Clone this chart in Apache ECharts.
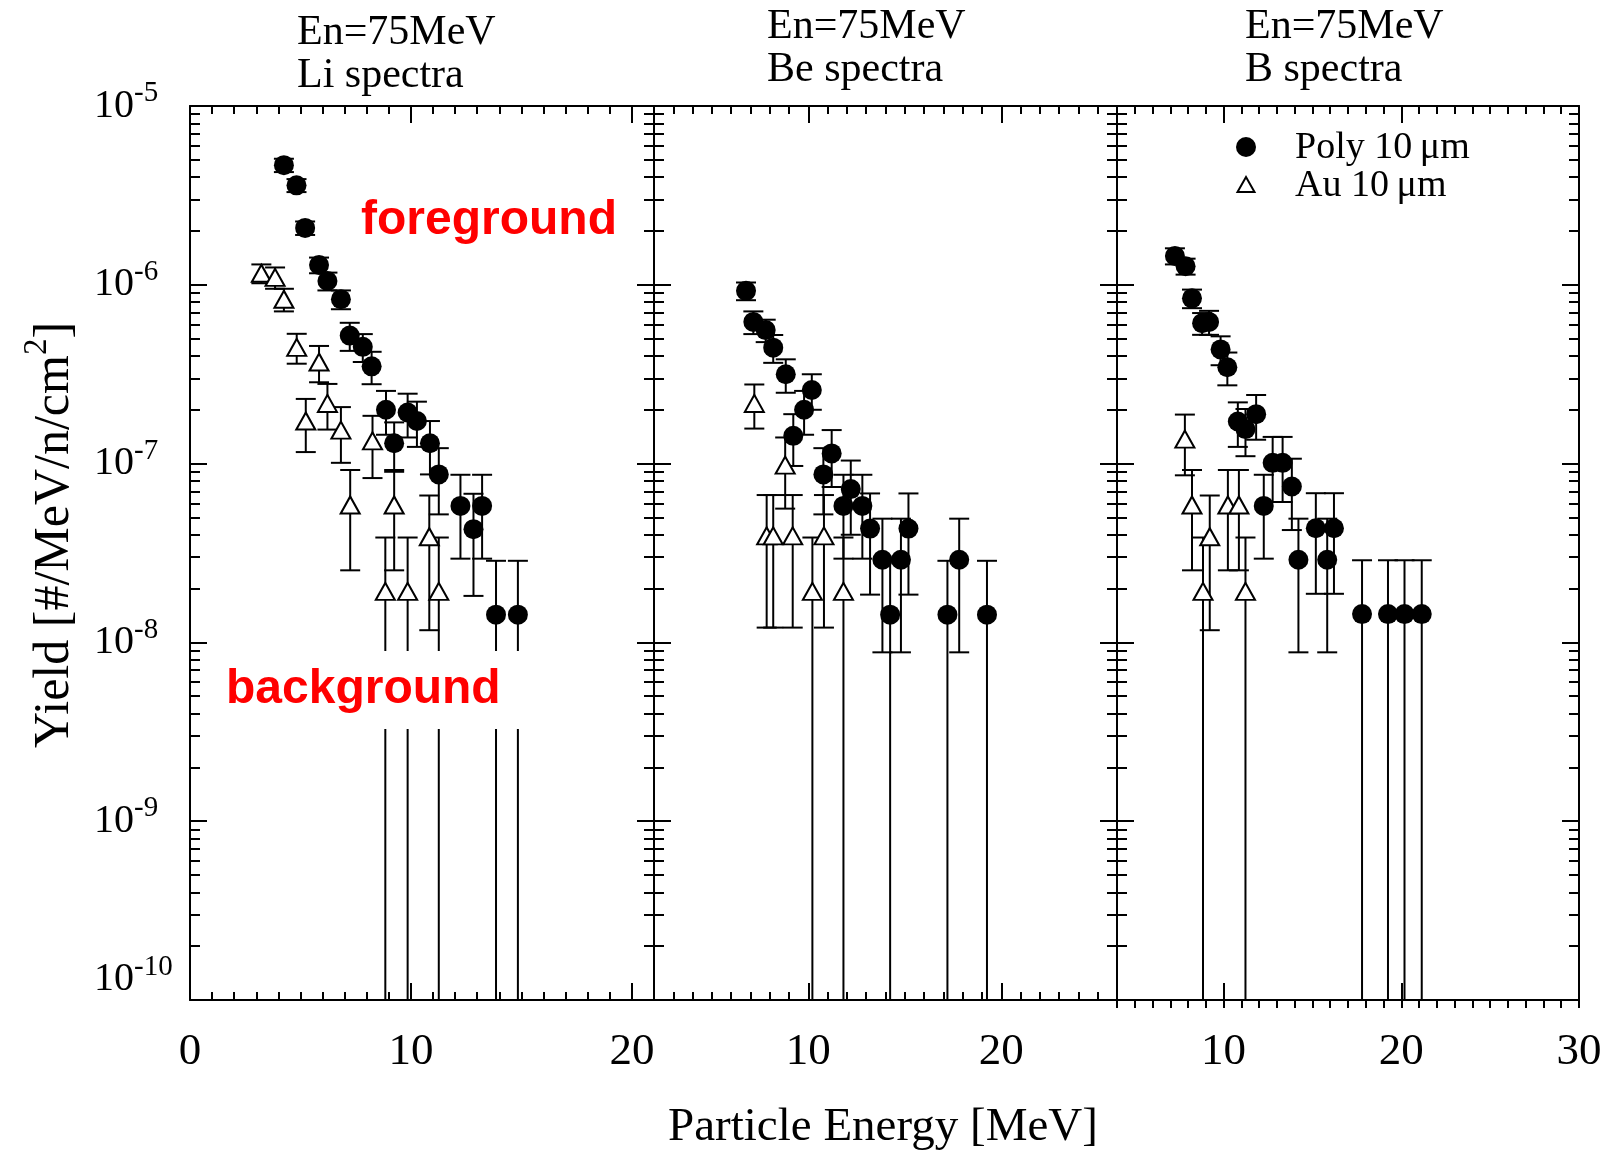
<!DOCTYPE html>
<html>
<head>
<meta charset="utf-8">
<script src="https://cdn.jsdelivr.net/npm/echarts@6/dist/echarts.min.js"></script>
<style>
  html, body { margin: 0; background: #fff; }
  #main { width: 1607px; height: 1154px; }
</style>
</head>
<body>
<div id="main"></div>
<script>
// ---- data (energy in MeV, yield in #/MeV/n/cm2, symmetric errors) ----
const liPolyX = [4.25, 4.82, 5.21, 5.84, 6.22, 6.83, 7.23, 7.82, 8.22, 8.87, 9.24, 9.85, 10.27, 10.86, 11.26, 12.24, 13.22, 12.83, 13.85, 14.84]
const liPolyY = [4.67e-6, 3.6e-6, 2.08e-6, 1.29e-6, 1.05e-6, 8.3e-7, 5.2e-7, 4.5e-7, 3.5e-7, 2.0e-7, 1.3e-7, 1.93e-7, 1.73e-7, 1.3e-7, 8.7e-8, 5.8e-8, 5.8e-8, 4.3e-8, 1.43e-8, 1.43e-8]
const liPolyErr = [4.0e-7, 3.0e-7, 1.8e-7, 1.3e-7, 1.2e-7, 1.0e-7, 9.3e-8, 8.0e-8, 7.2e-8, 5.5e-8, 4.0e-8, 5.3e-8, 4.9e-8, 4.3e-8, 3.5e-8, 2.86e-8, 2.86e-8, 2.48e-8, 1.43e-8, 1.43e-8]
const liAuX = [3.23, 3.85, 4.25, 4.83, 5.84, 6.22, 5.24, 6.83, 8.26, 7.25, 9.24, 10.83, 8.84, 9.85, 11.26]
const liAuY = [1.16e-6, 1.1e-6, 8.3e-7, 4.47e-7, 3.7e-7, 2.17e-7, 1.73e-7, 1.54e-7, 1.34e-7, 5.87e-8, 5.87e-8, 3.9e-8, 1.93e-8, 1.93e-8, 1.93e-8]
const liAuErr = [1.4e-7, 1.5e-7, 1.2e-7, 8.5e-8, 8.5e-8, 6.2e-8, 5.7e-8, 5.3e-8, 5.1e-8, 3.34e-8, 3.34e-8, 2.73e-8, 1.93e-8, 1.93e-8, 1.93e-8]

const bePolyX = [6.77, 7.15, 7.79, 8.18, 8.83, 10.18, 9.78, 9.22, 11.21, 10.78, 12.2, 11.82, 12.8, 13.2, 15.19, 13.84, 14.8, 14.24, 17.82, 17.21, 19.26]
const bePolyY = [9.25e-7, 6.2e-7, 5.58e-7, 4.45e-7, 3.16e-7, 2.58e-7, 2.0e-7, 1.43e-7, 1.14e-7, 8.7e-8, 7.2e-8, 5.8e-8, 5.8e-8, 4.33e-8, 4.33e-8, 2.9e-8, 2.9e-8, 1.43e-8, 2.9e-8, 1.43e-8, 1.43e-8]
const bePolyErr = [1.05e-7, 9.0e-8, 8.0e-8, 7.9e-8, 6.7e-8, 5.8e-8, 5.5e-8, 4.6e-8, 4.0e-8, 3.5e-8, 3.2e-8, 2.86e-8, 2.86e-8, 2.48e-8, 2.48e-8, 2.02e-8, 2.02e-8, 1.43e-8, 2.02e-8, 1.43e-8, 1.43e-8]
const beAuX = [7.2, 8.8, 7.84, 8.18, 9.19, 10.81, 10.21, 11.82]
const beAuY = [2.17e-7, 9.8e-8, 3.94e-8, 3.94e-8, 3.94e-8, 3.94e-8, 1.93e-8, 1.93e-8]
const beAuErr = [6.0e-8, 4.2e-8, 2.73e-8, 2.73e-8, 2.73e-8, 2.73e-8, 1.93e-8, 1.93e-8]

const bPolyX = [7.26, 7.86, 8.22, 8.79, 9.18, 9.83, 10.21, 10.8, 11.23, 11.83, 12.76, 13.32, 13.84, 12.26, 15.19, 16.21, 14.21, 15.83, 17.79, 19.25, 20.18, 21.15]
const bPolyY = [1.45e-6, 1.27e-6, 8.4e-7, 6.1e-7, 6.2e-7, 4.35e-7, 3.46e-7, 1.72e-7, 1.56e-7, 1.89e-7, 1.01e-7, 1.01e-7, 7.45e-8, 5.8e-8, 4.35e-8, 4.35e-8, 2.9e-8, 2.9e-8, 1.44e-8, 1.44e-8, 1.44e-8, 1.44e-8]
const bPolyErr = [1.5e-7, 1.3e-7, 1.0e-7, 8.5e-8, 9.5e-8, 8.0e-8, 7.2e-8, 4.8e-8, 4.6e-8, 5.3e-8, 4.0e-8, 4.0e-8, 3.2e-8, 2.86e-8, 2.48e-8, 2.48e-8, 2.02e-8, 2.02e-8, 1.44e-8, 1.44e-8, 1.44e-8, 1.44e-8]
const bAuX = [7.82, 8.22, 9.22, 10.24, 10.86, 8.84, 11.23]
const bAuY = [1.37e-7, 5.87e-8, 3.9e-8, 5.87e-8, 5.87e-8, 1.93e-8, 1.93e-8]
const bAuErr = [5.1e-8, 3.34e-8, 2.73e-8, 3.34e-8, 3.34e-8, 1.93e-8, 1.93e-8]

// axes
const yDecades = [-10, -9, -8, -7, -6, -5]
const minorMultipliers = [2, 3, 4, 5, 6, 7, 8, 9]
const liTickLabels = [0, 10, 20]
const beTickLabels = [10, 20]
const bTickLabels = [10, 20, 30]
const panelTitles = ["Li spectra", "Be spectra", "B spectra"]
const beamLabel = "En=75MeV"
const legendNames = ["Poly 10\u2009\u03bcm", "Au 10\u2009\u03bcm"]

const SERIF = "'Liberation Serif', 'Times New Roman', serif"
const SANS = "'Liberation Sans', Arial, sans-serif"
const Y_MIN = yDecades[0]
const Y_MAX = yDecades[yDecades.length - 1]
const CAP = 10
const black = { color: "#000", width: 2 }

const minorLog = []
yDecades.slice(0, -1).forEach(d => minorMultipliers.forEach(m => minorLog.push(d + Math.log10(m))))

const panels = [
  { left: 190, width: 464, xMin: 0, xMax: 21, labels: liTickLabels, major: [10, 20], tickOut: false,
    poly: [liPolyX, liPolyY, liPolyErr], au: [liAuX, liAuY, liAuErr] },
  { left: 654, width: 463, xMin: 2, xMax: 26, labels: beTickLabels, major: [10, 20], tickOut: false,
    poly: [bePolyX, bePolyY, bePolyErr], au: [beAuX, beAuY, beAuErr] },
  { left: 1117, width: 462, xMin: 4, xMax: 30, labels: bTickLabels, major: [10, 20], tickOut: true,
    poly: [bPolyX, bPolyY, bPolyErr], au: [bAuX, bAuY, bAuErr] }
]

function errorBars(g, [xs, ys, errs], z) {
  return {
    type: "custom", xAxisIndex: g * 4, yAxisIndex: g * 4, z, silent: true,
    data: xs.map((x, i) => [x, Math.log10(ys[i])]),
    renderItem(params, api) {
      const i = params.dataIndex
      const hi = ys[i] + errs[i]
      const lo = ys[i] - errs[i]
      const hasLow = lo > 0 && Math.log10(lo) > Y_MIN
      const top = api.coord([api.value(0), Math.min(Math.log10(hi), Y_MAX)])
      const bot = api.coord([api.value(0), hasLow ? Math.log10(lo) : Y_MIN])
      const style = { stroke: "#000", lineWidth: 2 }
      const children = [
        { type: "line", shape: { x1: top[0], y1: top[1], x2: bot[0], y2: bot[1] }, style },
        { type: "line", shape: { x1: top[0] - CAP, y1: top[1], x2: top[0] + CAP, y2: top[1] }, style }
      ]
      if (hasLow) children.push({ type: "line", shape: { x1: bot[0] - CAP, y1: bot[1], x2: bot[0] + CAP, y2: bot[1] }, style })
      return { type: "group", children }
    }
  }
}

function points(g, [xs, ys], kind) {
  const base = { type: "scatter", xAxisIndex: g * 4, yAxisIndex: g * 4, silent: true,
    data: xs.map((x, i) => [x, Math.log10(ys[i])]) }
  if (kind === "poly") return { ...base, z: 5, symbol: "circle", symbolSize: 20, itemStyle: { color: "#000", opacity: 1 } }
  return { ...base, z: 4, symbol: "triangle", symbolSize: [19, 17], itemStyle: { color: "#fff", borderColor: "#000", borderWidth: 2, opacity: 1 } }
}

const grid = [], xAxis = [], yAxis = [], series = []
panels.forEach((p, g) => {
  grid.push({ left: p.left, top: 106, width: p.width, height: 894 })
  const bx = { type: "value", gridIndex: g, min: p.xMin, max: p.xMax, interval: 1, splitLine: { show: false } }
  const line = { show: true, onZero: false, lineStyle: black }
  const noLine = { show: false, onZero: false }
  xAxis.push({ ...bx, position: "bottom", axisLine: line,
    axisTick: { inside: !p.tickOut, length: 8, lineStyle: black },
    axisLabel: { customValues: p.labels, fontFamily: SERIF, fontSize: 45, color: "#000", margin: 30 } })
  xAxis.push({ ...bx, position: "bottom", axisLine: noLine,
    axisTick: { customValues: p.major, inside: true, length: 17, lineStyle: black }, axisLabel: { show: false } })
  xAxis.push({ ...bx, position: "top", axisLine: line,
    axisTick: { inside: true, length: 8, lineStyle: black }, axisLabel: { show: false } })
  xAxis.push({ ...bx, position: "top", axisLine: noLine,
    axisTick: { customValues: p.major, inside: true, length: 17, lineStyle: black }, axisLabel: { show: false } })

  const by = { type: "value", gridIndex: g, min: Y_MIN, max: Y_MAX, interval: 1, splitLine: { show: false } }
  yAxis.push({ ...by, position: "left", axisLine: line,
    axisTick: { inside: true, length: 17, lineStyle: black },
    axisLabel: g === 0 ? {
      align: "left", margin: 96,
      formatter: v => {
        const n = Math.round(v)
        return n === Y_MIN ? "{c|10}{d|" + n + "}" : "{a|10}{b|" + n + "}"
      },
      rich: {
        a: { fontFamily: SERIF, fontSize: 40, color: "#000", padding: [7, 0, 7, 0] },
        b: { fontFamily: SERIF, fontSize: 29, color: "#000", verticalAlign: "top" },
        c: { fontFamily: SERIF, fontSize: 40, color: "#000", padding: [7, 0, 48, 0] },
        d: { fontFamily: SERIF, fontSize: 29, color: "#000", verticalAlign: "top" }
      }
    } : { show: false } })
  yAxis.push({ ...by, position: "left", axisLine: noLine,
    axisTick: { customValues: minorLog, inside: true, length: 10, lineStyle: black }, axisLabel: { show: false } })
  yAxis.push({ ...by, position: "right", axisLine: line,
    axisTick: { inside: true, length: 17, lineStyle: black }, axisLabel: { show: false } })
  yAxis.push({ ...by, position: "right", axisLine: noLine,
    axisTick: { customValues: minorLog, inside: true, length: 10, lineStyle: black }, axisLabel: { show: false } })

  series.push(errorBars(g, p.au, 2), errorBars(g, p.poly, 3), points(g, p.au, "au"), points(g, p.poly, "poly"))
})

const titlePos = [[297, 33, 76], [767, 27, 70], [1245, 27, 70]]
const graphic = []
titlePos.forEach(([x, y1, y2], g) => {
  graphic.push({ type: "text", x, y: y1, style: { text: beamLabel, font: "42px " + SERIF, fill: "#000", verticalAlign: "middle" } })
  graphic.push({ type: "text", x, y: y2, style: { text: panelTitles[g], font: "42px " + SERIF, fill: "#000", verticalAlign: "middle" } })
})

// legend
graphic.push(
  { type: "circle", shape: { cx: 1246, cy: 147, r: 10 }, style: { fill: "#000" } },
  { type: "polygon", shape: { points: [[1246, 177], [1254.5, 192], [1237.5, 192]] }, style: { fill: "#fff", stroke: "#000", lineWidth: 2 } },
  { type: "text", x: 1295, y: 148, style: { text: legendNames[0], font: "38px " + SERIF, fill: "#000", verticalAlign: "middle" } },
  { type: "text", x: 1295, y: 186, style: { text: legendNames[1], font: "38px " + SERIF, fill: "#000", verticalAlign: "middle" } }
)

// annotations
graphic.push(
  { type: "text", x: 361, y: 221, z: 100, style: { text: "foreground", font: "bold 48px " + SANS, fill: "#ff0000", verticalAlign: "middle" } },
  { type: "text", x: 222, y: 690, z: 100, style: { text: "background", font: "bold 48px " + SANS, fill: "#ff0000",
    verticalAlign: "middle", lineHeight: 54, backgroundColor: "#fff", padding: [12, 26, 12, 4] } }
)

// axis titles
graphic.push(
  { type: "text", x: 883, y: 1128, style: { text: "Particle Energy [MeV]", font: "47px " + SERIF, fill: "#000", align: "center", verticalAlign: "middle" } },
  { type: "text", x: 50, y: 535, rotation: Math.PI / 2,
    style: { text: "{a|Yield [#/MeV/n/cm}{s|2}{a|]}", align: "center", verticalAlign: "middle",
      rich: {
        a: { fontFamily: SERIF, fontSize: 50, fill: "#000", padding: [9, 0, 0, 0] },
        s: { fontFamily: SERIF, fontSize: 33, fill: "#000", verticalAlign: "top" }
      } } }
)

const chart = echarts.init(document.getElementById("main"), null, { renderer: "canvas" })
chart.setOption({
  animation: false,
  backgroundColor: "#fff",
  grid, xAxis, yAxis, series, graphic
})
</script>
</body>
</html>
